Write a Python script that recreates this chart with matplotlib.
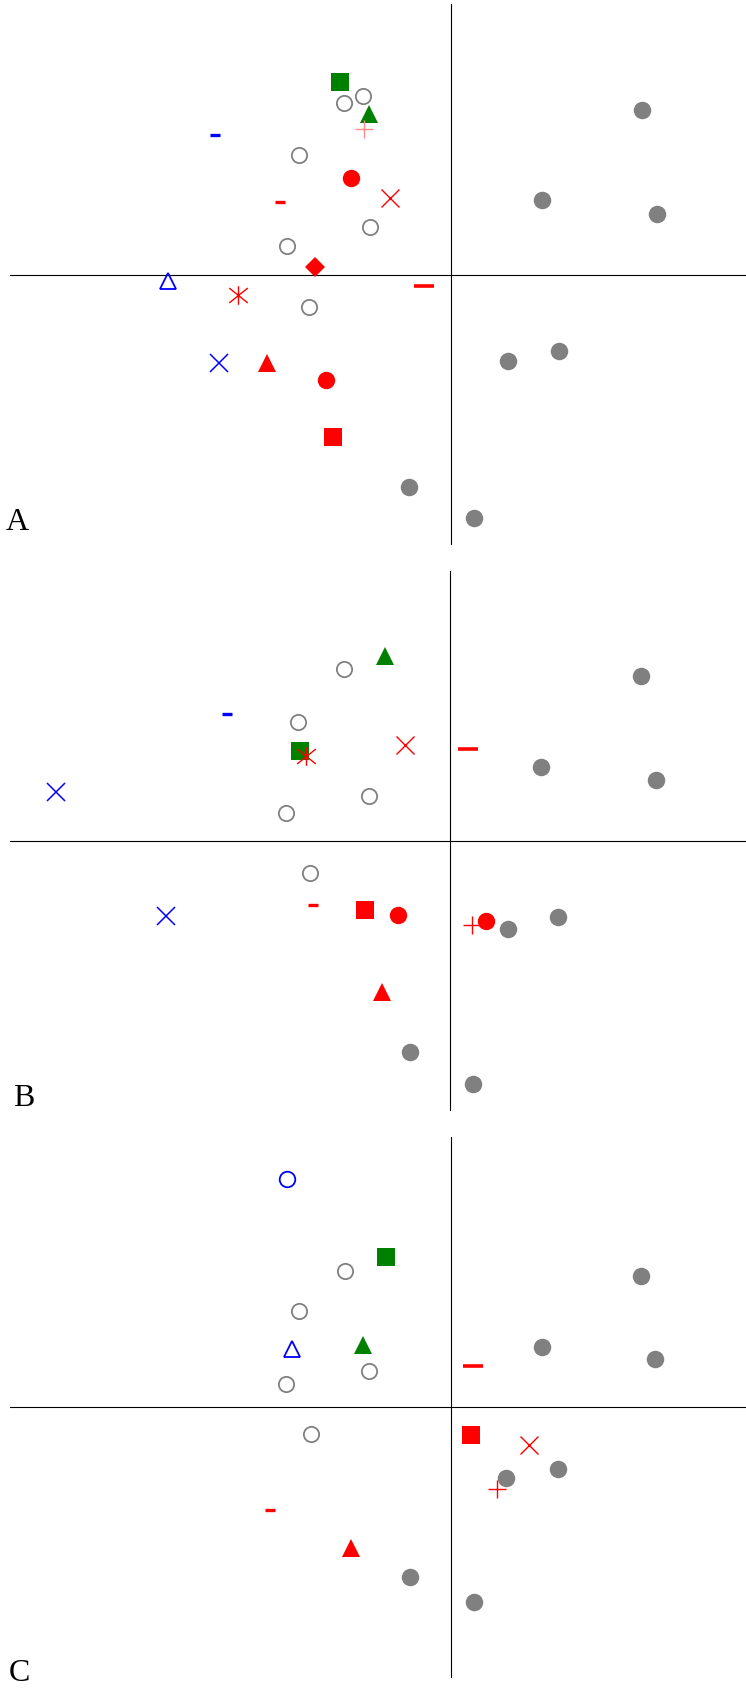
import matplotlib
matplotlib.use("Agg")
import matplotlib.pyplot as plt
from matplotlib.path import Path

# ---------------- data (axis units, origin at the crossing lines) ----------------
# Panel A
A_filled_gray_x = [1.770, 0.844, 1.913, 0.525, 1.003, -0.390, 0.216]
A_filled_gray_y = [1.532, 0.689, 0.563, -0.808, -0.712, -1.970, -2.259]
A_open_gray_x = [-0.820, -0.995, -1.415, -0.756, -1.525, -1.318]
A_open_gray_y = [1.660, 1.596, 1.106, 0.437, 0.262, -0.298]
A_symbols = ["green_square", "green_triangle", "pink_plus", "blue_dash", "red_circle",
             "red_dash", "red_x", "red_diamond", "blue_open_triangle", "red_long_dash",
             "red_asterisk", "blue_x", "red_triangle", "red_circle", "red_square"]
A_symbol_x = [-1.030, -0.760, -0.813, -2.197, -0.933, -1.587, -0.571, -1.260, -2.634,
              -0.252, -1.980, -2.157, -1.711, -1.158, -1.092]
A_symbol_y = [1.790, 1.490, 1.351, 1.298, 0.897, 0.676, 0.712, 0.066, -0.056,
              -0.103, -0.195, -0.818, -0.818, -0.984, -1.507]

# Panel B
B_filled_gray_x = [1.772, 0.849, 1.918, 0.535, 1.008, -0.375, 0.213]
B_filled_gray_y = [1.530, 0.688, 0.563, -0.818, -0.706, -1.964, -2.262]
B_open_gray_x = [-0.981, -1.409, -0.755, -1.520, -1.299]
B_open_gray_y = [1.596, 1.103, 0.421, 0.258, -0.298]
B_symbols = ["green_triangle", "blue_dash", "green_square", "red_asterisk", "red_x",
             "red_long_dash", "blue_x", "red_dash", "red_square", "red_circle",
             "blue_x", "red_plus", "red_circle", "red_triangle"]
B_symbol_x = [-0.605, -2.072, -1.392, -1.339, -0.415, 0.164, -3.659, -1.268, -0.786,
              -0.486, -2.638, 0.208, 0.336, -0.636]
B_symbol_y = [1.722, 1.182, 0.834, 0.788, 0.887, 0.851, 0.457, -0.593, -0.646,
              -0.692, -0.702, -0.785, -0.742, -1.407]

# Panel C
C_filled_gray_x = [1.763, 0.848, 1.891, 0.990, 0.513, -0.385, 0.212]
C_filled_gray_y = [1.221, 0.560, 0.453, -0.573, -0.654, -1.573, -1.807]
C_open_gray_x = [-0.986, -1.414, -0.765, -1.529, -1.303]
C_open_gray_y = [1.268, 0.893, 0.339, 0.215, -0.244]
C_symbols = ["blue_open_circle", "green_square", "blue_open_triangle", "green_triangle",
             "red_long_dash", "red_square", "red_x", "red_plus", "red_dash", "red_triangle"]
C_symbol_x = [-1.524, -0.606, -1.481, -0.817, 0.208, 0.186, 0.725, 0.428, -1.684, -0.928]
C_symbol_y = [2.124, 1.395, 0.547, 0.581, 0.386, -0.258, -0.348, -0.761, -0.956, -1.304]

panel_labels = ["A", "B", "C"]

# ---------------- styles ----------------
RED = "#FF0000"
BLUE = "#0000FF"
GREEN = "#008000"
GRAY = "#808080"
PINK = "#FF8A8A"

asterisk = Path([(0, -1), (0, 1), (-1, -0.8), (1, 0.8), (-1, 0.8), (1, -0.8)],
                [Path.MOVETO, Path.LINETO, Path.MOVETO, Path.LINETO, Path.MOVETO, Path.LINETO])

STYLES = {
    "green_square": dict(marker="s", ms=12.4, mfc=GREEN, mec=GREEN, mew=0),
    "red_square": dict(marker="s", ms=12.4, mfc=RED, mec=RED, mew=0),
    "green_triangle": dict(marker="^", ms=13.2, mfc=GREEN, mec=GREEN, mew=0),
    "red_triangle": dict(marker="^", ms=13.2, mfc=RED, mec=RED, mew=0),
    "red_circle": dict(marker="o", ms=12.5, mfc=RED, mec=RED, mew=0),
    "red_diamond": dict(marker="D", ms=9.8, mfc=RED, mec=RED, mew=0),
    "pink_plus": dict(marker="+", ms=13.6, mec=PINK, mew=1.0),
    "red_plus": dict(marker="+", ms=13.6, mec=RED, mew=1.0),
    "red_x": dict(marker="x", ms=13.6, mec=RED, mew=1.0),
    "blue_x": dict(marker="x", ms=13.6, mec=BLUE, mew=1.1),
    "blue_dash": dict(marker="_", ms=7.6, mec=BLUE, mew=2.4),
    "red_dash": dict(marker="_", ms=7.6, mec=RED, mew=2.4),
    "red_long_dash": dict(marker="_", ms=13.7, mec=RED, mew=2.6),
    "blue_open_triangle": dict(marker="^", ms=12.2, mfc="none", mec=BLUE, mew=1.3),
    "blue_open_circle": dict(marker="o", ms=11.2, mfc="none", mec=BLUE, mew=1.3),
    "red_asterisk": dict(marker=asterisk, ms=13.4, mec=RED, mew=1.0),
}

panels = [
    (A_filled_gray_x, A_filled_gray_y, A_open_gray_x, A_open_gray_y, A_symbols, A_symbol_x, A_symbol_y),
    (B_filled_gray_x, B_filled_gray_y, B_open_gray_x, B_open_gray_y, B_symbols, B_symbol_x, B_symbol_y),
    (C_filled_gray_x, C_filled_gray_y, C_open_gray_x, C_open_gray_y, C_symbols, C_symbol_x, C_symbol_y),
]

# ---------------- layout ----------------
W, H = 746, 1688
fig = plt.figure(figsize=(W / 100, H / 100), dpi=100)

axes_left_px = 9.7
axes_w_px = W - axes_left_px
unit_px = 107.65
ylim = (-2.51, 2.51)
xlims = [(-4.100, 2.740), (-4.090, 2.750), (-4.100, 2.740)]
origins_y = [274.5, 840.9, 1407.4]
label_pos = [(5.7, 530.0), (13.5, 1106.0), (8.6, 1681.0)]

for i, (fgx, fgy, ogx, ogy, syms, sx, sy) in enumerate(panels):
    top = origins_y[i] - ylim[1] * unit_px
    hpx = (ylim[1] - ylim[0]) * unit_px
    ax = fig.add_axes([axes_left_px / W, 1 - (top + hpx) / H, axes_w_px / W, hpx / H])
    ax.set_xlim(*xlims[i])
    ax.set_ylim(*ylim)
    ax.axis("off")
    ax.axhline(0, color="black", lw=0.8, zorder=1)
    ax.axvline(0, color="black", lw=0.8, zorder=1)

    ax.plot(fgx, fgy, ls="none", marker="o", ms=12.6, mfc=GRAY, mec=GRAY, mew=0, zorder=2)
    ax.plot(ogx, ogy, ls="none", marker="o", ms=11.0, mfc="none", mec=GRAY, mew=1.3, zorder=2)
    for name, x, y in zip(syms, sx, sy):
        ax.plot([x], [y], ls="none", zorder=3, **STYLES[name])

    lx, ly = label_pos[i]
    fig.text(lx / W, 1 - ly / H, panel_labels[i], family=["Liberation Serif", "DejaVu Serif"],
             fontsize=23, ha="left", va="baseline")

fig.savefig("out.png", dpi=100)
